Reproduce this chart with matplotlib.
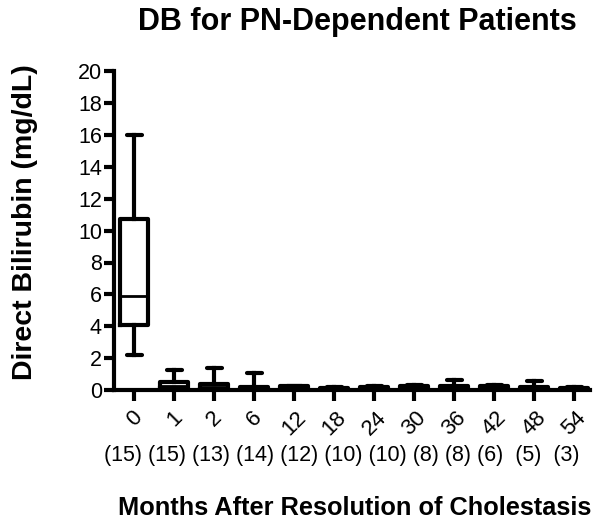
import matplotlib
matplotlib.use("Agg")
import matplotlib.pyplot as plt
from matplotlib.transforms import offset_copy

plt.rcParams['font.family'] = ['Liberation Sans', 'DejaVu Sans']

months = ["0", "1", "2", "6", "12", "18", "24", "30", "36", "42", "48", "54"]
counts = ["(15)", "(15)", "(13)", "(14)", "(12)", "(10)", "(10)", "(8)", "(8)", "(6)", "(5)", "(3)"]
whislo = [2.2, 0.0, 0.0, 0.0, 0.0, 0.0, 0.0, 0.0, 0.0, 0.0, 0.0, 0.0]
q1     = [4.1, 0.15, 0.1, 0.05, 0.05, 0.05, 0.05, 0.05, 0.05, 0.05, 0.05, 0.05]
median = [5.9, 0.3, 0.22, 0.1, 0.15, 0.1, 0.1, 0.15, 0.1, 0.15, 0.1, 0.1]
q3     = [10.7, 0.5, 0.38, 0.22, 0.27, 0.15, 0.2, 0.3, 0.25, 0.3, 0.2, 0.15]
whishi = [16.0, 1.3, 1.4, 1.1, 0.3, 0.2, 0.3, 0.35, 0.65, 0.35, 0.6, 0.2]

fig = plt.figure(figsize=(6.01, 5.25), dpi=100)
ax = fig.add_axes([0.1905, 0.2562, 0.7912, 0.6095])

stats = []
for i in range(len(months)):
    stats.append(dict(whislo=whislo[i], q1=q1[i], med=median[i], q3=q3[i],
                      whishi=whishi[i], fliers=[], label=months[i]))

lw = 3.0
ax.bxp(stats, positions=range(len(months)), widths=0.7, capwidths=0.36,
       showfliers=False,
       boxprops=dict(color='black', linewidth=lw),
       whiskerprops=dict(color='black', linewidth=lw),
       capprops=dict(color='black', linewidth=lw, solid_capstyle='round'),
       medianprops=dict(color='black', linewidth=2.0),
       zorder=3)

ax.set_xlim(-0.5, 11.39)
ax.set_ylim(0, 20)
ax.set_yticks(range(0, 21, 2))
ax.set_xticks(range(len(months)))
ax.set_xticklabels(months, rotation=45, ha='center', va='top', fontsize=16)
for lab in ax.get_xticklabels():
    lab.set_transform(offset_copy(lab.get_transform(), fig=fig, x=-5, y=0, units='dots'))
ax.tick_params(axis='y', labelsize=15.5, width=lw, length=7.5, direction='out', pad=1.5)
ax.tick_params(axis='x', width=lw, length=8, direction='out', pad=4)
for s in ['top', 'right']:
    ax.spines[s].set_visible(False)
for s in ['left', 'bottom']:
    ax.spines[s].set_linewidth(lw)
    ax.spines[s].set_zorder(4)
ax.spines['left'].set_capstyle('projecting')

# counts row, written as one spaced line under the tick labels
counts_line = " ".join(counts[:10]) + "  " + "  ".join(counts[10:])
fig.text(0.568, 0.1333, counts_line, ha='center', va='center', fontsize=15.5)

fig.text(0.594, 0.958, "DB for PN-Dependent Patients", ha='center', va='center',
         fontsize=22, fontweight='bold')
fig.text(0.590, 0.032, "Months After Resolution of Cholestasis", ha='center', va='center',
         fontsize=18.3, fontweight='bold')
fig.text(0.042, 0.577, "Direct Bilirubin (mg/dL)", ha='center', va='center',
         rotation=90, fontsize=20.5, fontweight='bold')

fig.savefig("out.png", dpi=100)
